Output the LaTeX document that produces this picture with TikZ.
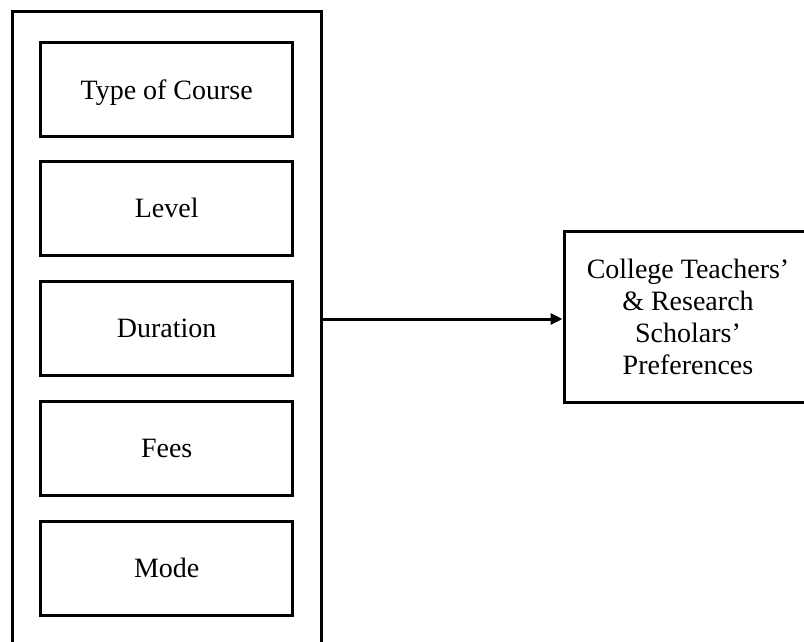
\documentclass[tikz,border=0pt]{standalone}
\usepackage{fontspec}
\setmainfont{Liberation Serif}
\usetikzlibrary{arrows.meta}
\begin{document}
\begin{tikzpicture}[x=1pt,y=-1pt,
  boxline/.style={draw=black,line width=3pt},
  item/.style={boxline,rectangle,minimum width=252pt,minimum height=94pt,inner sep=0pt,
    text height=22pt,text depth=3.4pt,
    font=\fontsize{28}{32}\selectfont},
  result/.style={boxline,rectangle,minimum width=248pt,minimum height=171pt,inner sep=0pt,
    align=center,font=\fontsize{28}{32}\selectfont},
  outerbox/.style={boxline,rectangle,minimum width=309pt,minimum height=649pt,inner sep=0pt},
  link/.style={line width=3pt,-{Triangle[length=12pt,width=11pt]}}]
\useasboundingbox (0,0) rectangle (804,641);
\clip (0,0) rectangle (804,641);
\node[outerbox] (outer) at (166.5,335.5) {};
\node[item] (t1) at (166.7,89.7) {Type of Course};
\node[item] (t2) at (166.7,208.5) {Level};
\node[item] (t3) at (166.7,328.5) {Duration};
\node[item] (t4) at (166.7,448.5) {Fees};
\node[item] (t5) at (166.7,568) {Mode};
\node[result] (res) at (688,316.5) {College Teachers’\\\& Research\\Scholars’\\Preferences};
\draw[link] (res.west -| outer.east) ++(0,2.5) coordinate (start) -- (start -| res.west);
\end{tikzpicture}
\end{document}
